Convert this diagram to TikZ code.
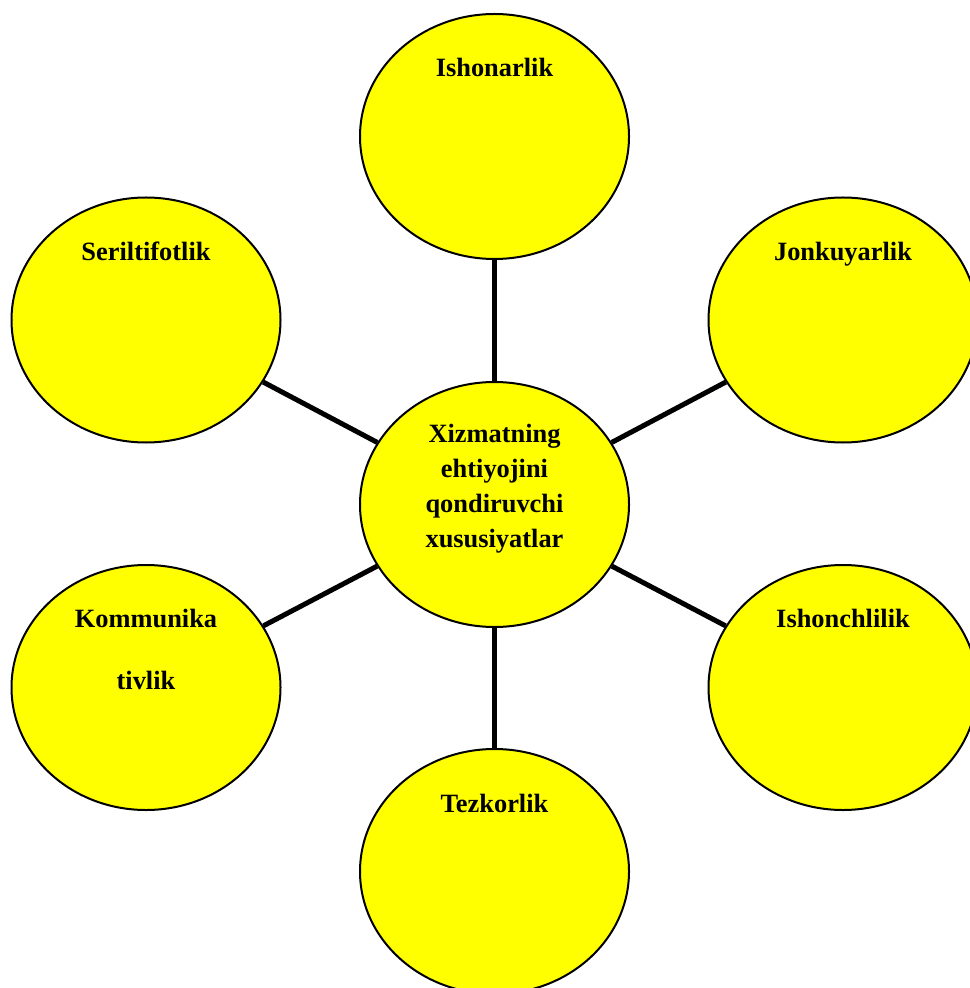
\documentclass[tikz,border=0pt]{standalone}
\usepackage{fontspec}
\setmainfont{Liberation Serif}
\usetikzlibrary{shapes.geometric}
\definecolor{ovalfill}{RGB}{255,255,0}

\begin{document}
\begin{tikzpicture}[x=0.5pt,y=-0.5pt,
        oval/.style={ellipse,draw=black,line width=1pt,fill=ovalfill,
            minimum width=134.5pt,minimum height=122.5pt,inner sep=0pt},
        lbl/.style={font=\fontsize{13.2}{17.35}\selectfont\bfseries,
            anchor=base,align=center,inner sep=0pt},
        link/.style={line width=2.5pt}]
    \useasboundingbox (0,0) rectangle (969,988);

    \node[oval] (markaz) at (494.5,504.5) {};
    \node[oval] (ishonarlik) at (494.5,136.5) {};
    \node[oval] (seriltifotlik) at (146,320) {};
    \node[oval] (jonkuyarlik) at (843,320) {};
    \node[oval] (kommunikativlik) at (146,687.5) {};
    \node[oval] (ishonchlilik) at (843,687.5) {};
    \node[oval] (tezkorlik) at (494.5,871.5) {};

    \foreach \n in {ishonarlik,seriltifotlik,jonkuyarlik,kommunikativlik,ishonchlilik,tezkorlik}
        \draw[link] (markaz) -- (\n);

    % base anchor of a multi-line label is its last line
    \node[lbl] (markaz-t) at (494.5,547) {Xizmatning\\ ehtiyojini\\ qondiruvchi\\ xususiyatlar};
    \node[lbl] (ishonarlik-t) at (494.5,77) {Ishonarlik};
    \node[lbl] (seriltifotlik-t) at (146,261) {Seriltifotlik};
    \node[lbl] (jonkuyarlik-t) at (843,261) {Jonkuyarlik};
    \node[lbl] (kommunikativlik-t) at (146,689) {Kommunika\\[13.65pt] tivlik};
    \node[lbl] (ishonchlilik-t) at (843,627) {Ishonchlilik};
    \node[lbl] (tezkorlik-t) at (494.5,812) {Tezkorlik};
\end{tikzpicture}
\end{document}
